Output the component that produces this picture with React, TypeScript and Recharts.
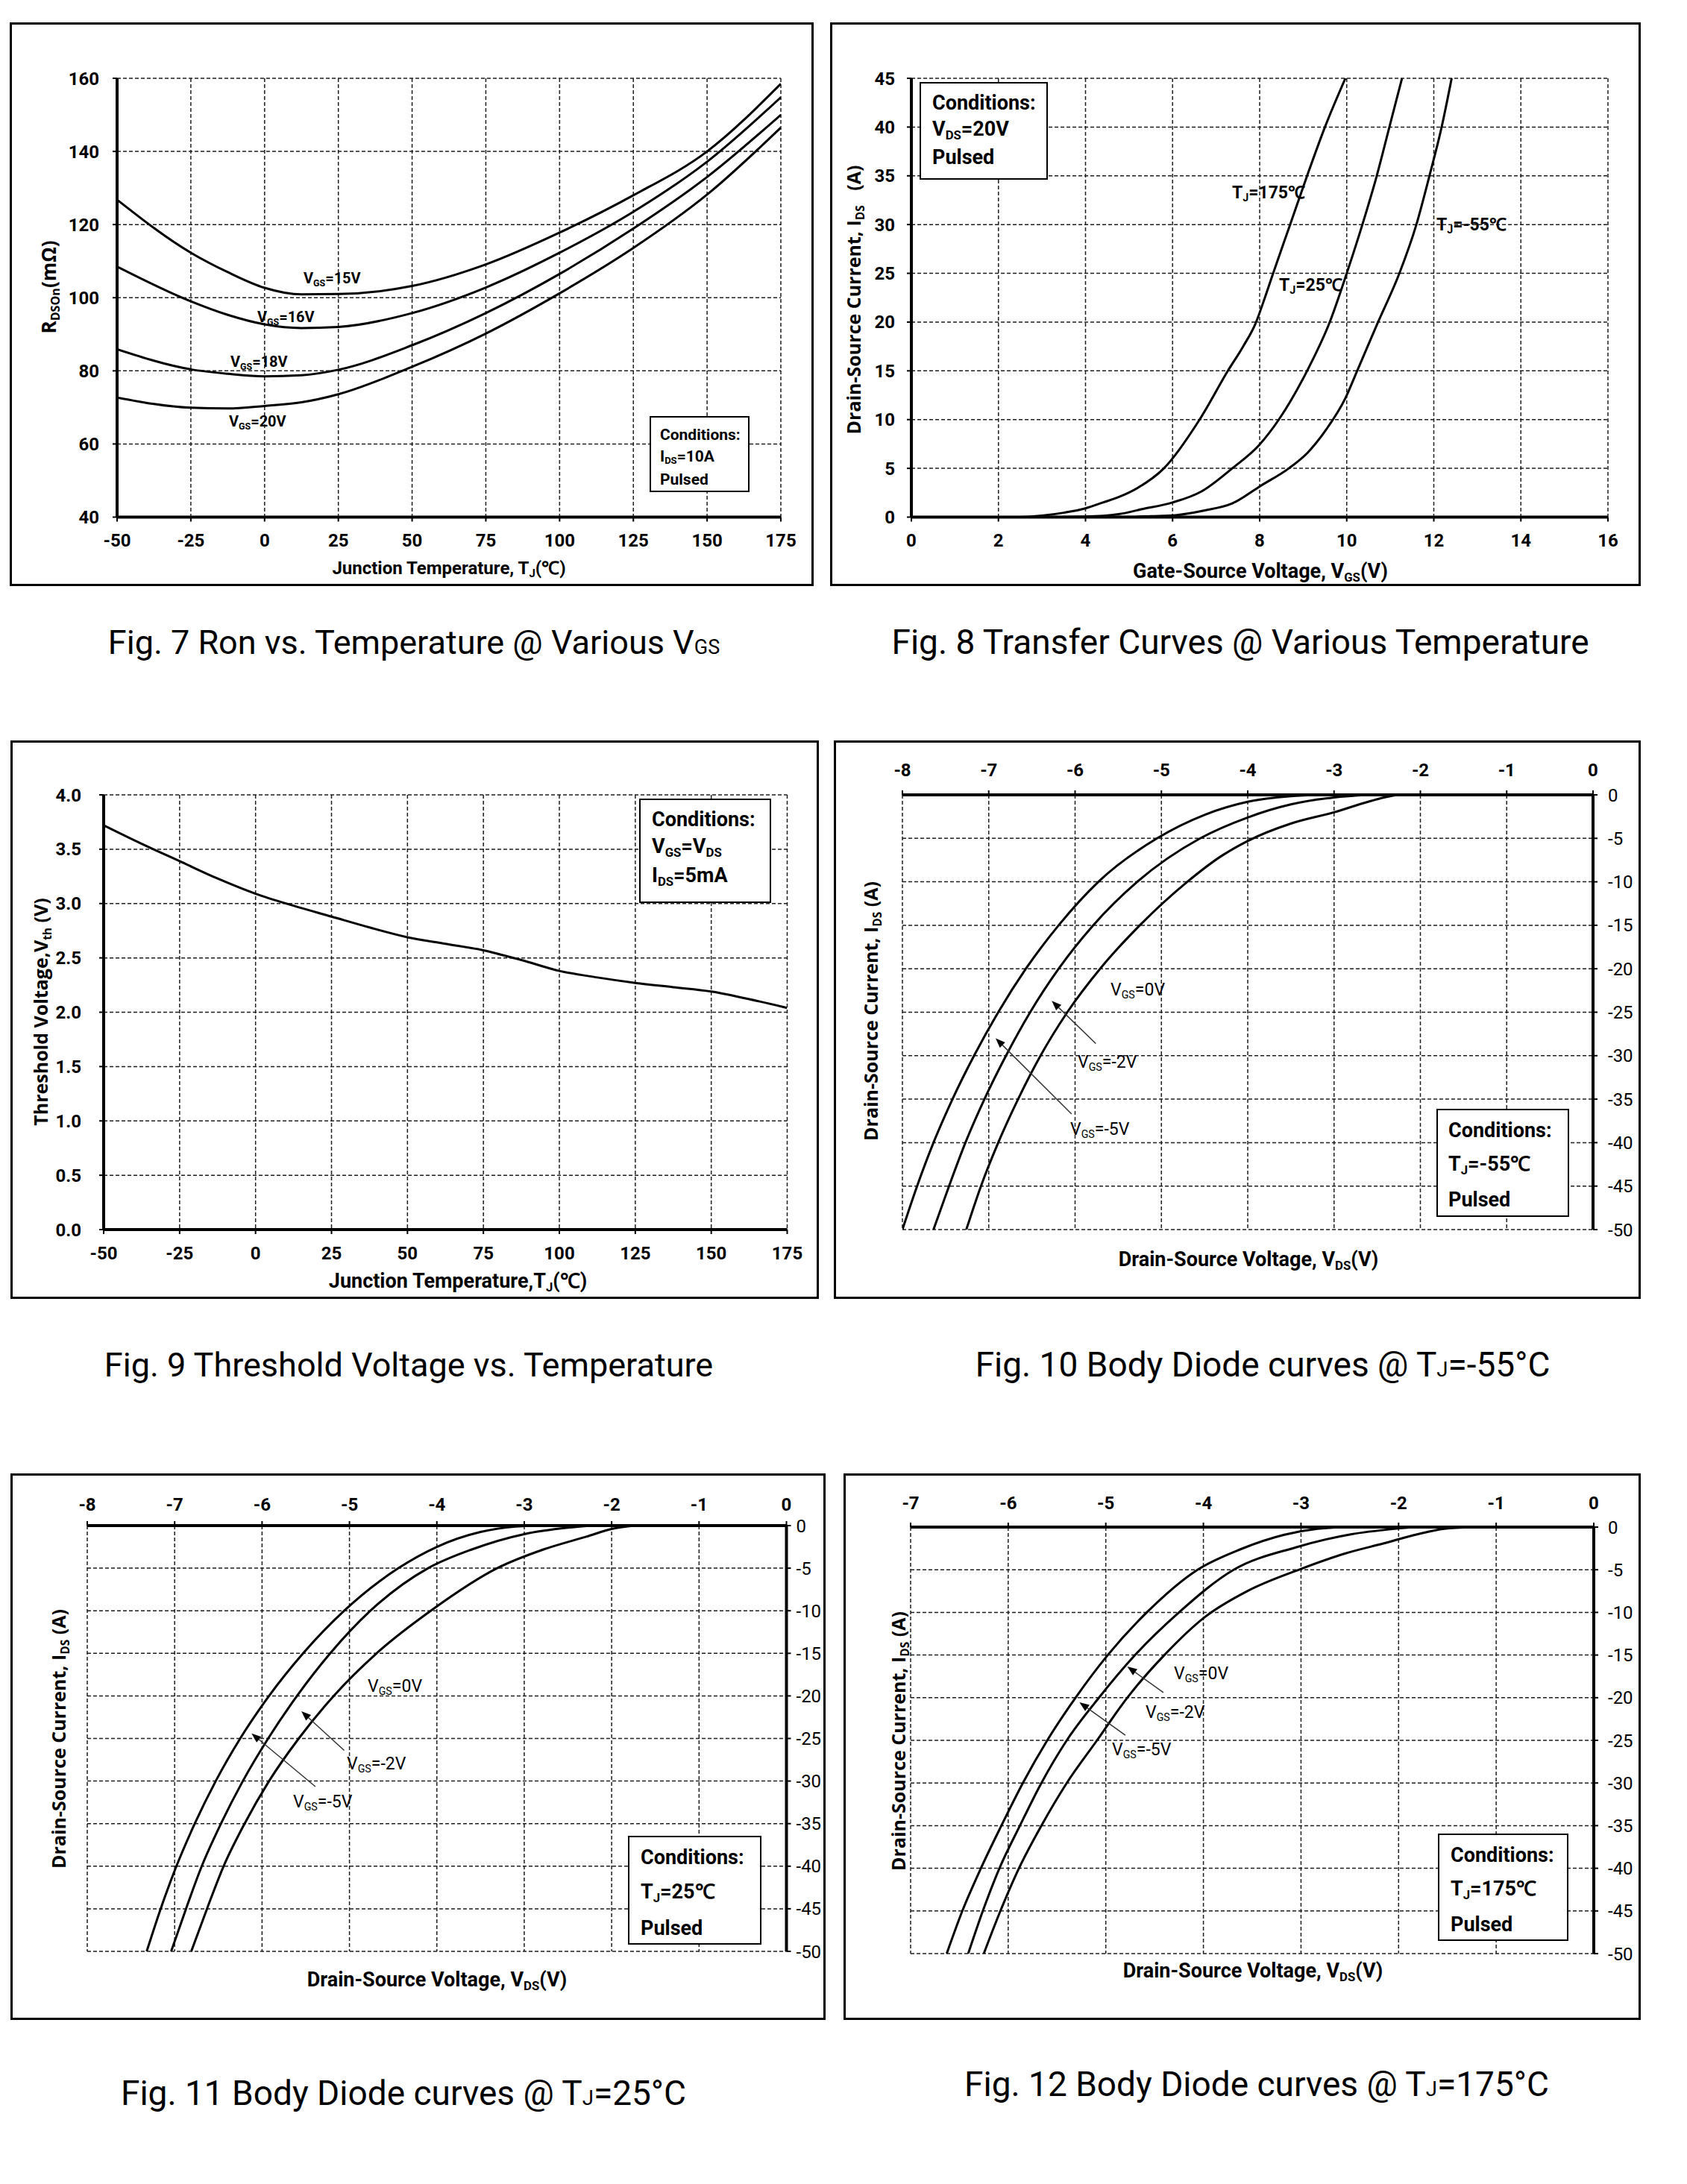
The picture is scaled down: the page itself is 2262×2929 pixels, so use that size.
import React from 'react';
import { LineChart, Line, XAxis, YAxis, CartesianGrid, ReferenceLine } from 'recharts';

const NARROW = '"Liberation Sans Narrow", "Arial Narrow", Roboto, sans-serif';
const WIDE = '"Open Sans", "Noto Sans", sans-serif';

// Fig. 7 – Ron vs. temperature
const ronTemp = [-50, -25, -12.5, 0, 12.5, 25, 50, 75, 100, 125, 150, 175];
const ronVgs15 = [126.8, 112.3, 107.0, 102.7, 100.9, 101.0, 103.2, 109.1, 117.8, 128.0, 140.0, 158.5];
const ronVgs16 = [108.5, 99.0, 95.3, 92.7, 91.7, 92.0, 95.8, 102.8, 112.3, 123.5, 137.2, 154.8];
const ronVgs18 = [85.9, 80.4, 79.2, 78.5, 78.8, 80.3, 87.0, 95.8, 106.5, 118.9, 133.0, 150.0];
const ronVgs20 = [72.7, 69.9, 69.7, 70.4, 71.4, 73.6, 81.1, 90.2, 101.2, 113.6, 128.2, 146.5];
const tempTicks = [-50, -25, 0, 25, 50, 75, 100, 125, 150, 175];
const ronTicks = [40, 60, 80, 100, 120, 140, 160];

// Fig. 8 – transfer curves
const t175Vgs = [0, 2.5, 3.0, 3.5, 4.0, 4.4, 4.76, 5.2, 5.8, 6.62, 7.27, 7.62, 7.9, 8.12, 8.31, 8.7, 9.09, 9.5, 9.97];
const t175Ids = [0, 0, 0.15, 0.45, 0.9, 1.5, 2.05, 3.0, 5.0, 10, 15, 17.5, 19.8, 22.5, 25, 30, 35, 40, 45];
const t25Vgs = [0, 3.0, 4.0, 4.76, 5.28, 6.0, 6.65, 7.37, 7.99, 8.44, 9.09, 9.61, 10.0, 10.36, 10.69, 10.98, 11.27];
const t25Ids = [0, 0, 0.05, 0.3, 0.8, 1.5, 2.6, 5, 7.4, 10, 15, 20, 25, 30, 35, 40, 45];
const tm55Vgs = [0, 4.0, 5.0, 5.5, 6.07, 6.72, 7.37, 8.02, 8.67, 9.1, 9.5, 9.97, 10.24, 10.72, 11.21, 11.6, 11.9, 12.18, 12.41];
const tm55Ids = [0, 0, 0.02, 0.1, 0.2, 0.67, 1.4, 3.2, 5, 6.6, 8.8, 12.2, 15, 20, 25, 30, 35, 40, 45];
const vgsTicks = [0, 2, 4, 6, 8, 10, 12, 14, 16];
const idsTicks = [0, 5, 10, 15, 20, 25, 30, 35, 40, 45];

// Fig. 9 – threshold voltage
const vthTemp = [-50, -37.5, -25, -12.5, 0, 12.5, 25, 37.5, 50, 62.5, 75, 87.5, 100, 112.5, 125, 137.5, 150, 162.5, 175];
const vthVal = [3.72, 3.55, 3.39, 3.23, 3.09, 2.98, 2.88, 2.78, 2.69, 2.63, 2.57, 2.48, 2.38, 2.32, 2.27, 2.23, 2.19, 2.12, 2.04];
const vthTicks = [0, 0.5, 1, 1.5, 2, 2.5, 3, 3.5, 4];

// Fig. 10 – body diode @ -55°C
const d55aV = [-8, -7.83, -7.64, -7.42, -7.17, -6.89, -6.57, -6.19, -5.73, -5.05, -4.5, -4.0, -3.5, -3.15];
const d55aI = [-50, -45, -40, -35, -30, -25, -20, -15, -10, -5, -2.3, -0.8, -0.15, 0];
const d55bV = [-7.64, -7.46, -7.27, -7.05, -6.8, -6.52, -6.19, -5.79, -5.28, -4.55, -4.0, -3.5, -3.0, -2.6];
const d55bI = [-50, -45, -40, -35, -30, -25, -20, -15, -10, -5, -2.6, -1.1, -0.3, 0];
const d55cV = [-7.26, -7.09, -6.89, -6.66, -6.4, -6.09, -5.71, -5.25, -4.7, -4.3, -4.0, -3.5, -3.0, -2.62, -2.42, -2.27];
const d55cI = [-50, -45, -40, -35, -30, -25, -20, -15, -10, -7.0, -5.3, -3.3, -2.0, -0.84, -0.3, 0];

// Fig. 11 – body diode @ 25°C
const d25aV = [-7.32, -7.16, -6.98, -6.77, -6.53, -6.25, -5.92, -5.53, -5.06, -4.44, -4.0, -3.5, -3.1, -2.9];
const d25aI = [-50, -45, -40, -35, -30, -25, -20, -15, -10, -5, -2.5, -0.75, -0.12, 0];
const d25bV = [-7.04, -6.87, -6.69, -6.47, -6.22, -5.93, -5.6, -5.22, -4.76, -4.1, -3.6, -3.0, -2.5, -2.23];
const d25bI = [-50, -45, -40, -35, -30, -25, -20, -15, -10, -5, -2.8, -1.0, -0.25, 0];
const d25cV = [-6.81, -6.63, -6.44, -6.2, -5.92, -5.58, -5.18, -4.69, -4.07, -3.31, -2.78, -2.29, -1.98, -1.74];
const d25cI = [-50, -45, -40, -35, -30, -25, -20, -15, -10, -5, -2.8, -1.3, -0.35, 0];

// Fig. 12 – body diode @ 175°C
const d175aV = [-6.63, -6.47, -6.28, -6.07, -5.85, -5.6, -5.31, -4.98, -4.58, -4.06, -3.62, -3.17, -2.83, -2.55];
const d175aI = [-50, -45, -40, -35, -30, -25, -20, -15, -10, -5, -2.6, -0.9, -0.2, 0];
const d175bV = [-6.41, -6.26, -6.09, -5.88, -5.66, -5.4, -5.07, -4.7, -4.25, -3.69, -3.06, -2.49, -2.04, -1.85];
const d175bI = [-50, -45, -40, -35, -30, -25, -20, -15, -10, -5, -2.4, -0.85, -0.2, 0];
const d175cV = [-6.25, -6.08, -5.89, -5.66, -5.4, -5.09, -4.78, -4.4, -3.98, -3.55, -3.0, -2.55, -2.15, -1.81, -1.53, -1.24];
const d175cI = [-50, -45, -40, -35, -30, -25, -20, -15, -10.5, -7.5, -4.9, -3.1, -1.9, -0.85, -0.2, 0];

const vds8Ticks = [-8, -7, -6, -5, -4, -3, -2, -1, 0];
const vds7Ticks = [-7, -6, -5, -4, -3, -2, -1, 0];
const idsNegTicks = [-50, -45, -40, -35, -30, -25, -20, -15, -10, -5, 0];

type Rect = { l: number; t: number; r: number; b: number };
type Series = { xs: number[]; ys: number[] };
type Arrow = [number, number, number, number];

const pts = (s: Series) => s.xs.map((x, i) => ({ x, y: s.ys[i] }));

const arrowShape = (p: any) => {
  const { x1, y1, x2, y2 } = p;
  const a = Math.atan2(y2 - y1, x2 - x1);
  const L = 13, W = 5;
  const bx = x2 - L * Math.cos(a), by = y2 - L * Math.sin(a);
  const head = `${x2},${y2} ${bx + W * Math.sin(a)},${by - W * Math.cos(a)} ${bx - W * Math.sin(a)},${by + W * Math.cos(a)}`;
  return (
    <g>
      <line x1={x1} y1={y1} x2={bx} y2={by} stroke="#333" strokeWidth={1.5} />
      <polygon points={head} fill="#000" />
    </g>
  );
};

interface PlotProps {
  plot: Rect;
  flip?: boolean;
  xDomain: [number, number];
  xTicks: number[];
  yDomain: [number, number];
  yTicks: number[];
  series: Series[];
  xGap: number;
  yGap: number;
  yFmt?: (v: number) => string;
  yWeight?: number;
  arrows?: Arrow[];
}

const Plot = (p: PlotProps) => {
  const AX = 70, M = 30;
  const w = p.plot.r - p.plot.l, h = p.plot.b - p.plot.t;
  const left = p.flip ? p.plot.l - M : p.plot.l - AX - M;
  const top = p.flip ? p.plot.t - AX - M : p.plot.t - M;
  const tick = { fontSize: 24, fontWeight: 700, fill: '#000', fontFamily: NARROW };
  return (
    <div style={{ position: 'absolute', left, top }}>
      <LineChart width={w + AX + 2 * M} height={h + AX + 2 * M} margin={{ top: M, right: M, bottom: M, left: M }}>
        <CartesianGrid stroke="#1e1e1e" strokeDasharray="5 3" strokeWidth={1.5} />
        <XAxis
          type="number"
          dataKey="x"
          domain={p.xDomain}
          ticks={p.xTicks}
          interval={0}
          orientation={p.flip ? 'top' : 'bottom'}
          height={AX}
          axisLine={{ stroke: '#000', strokeWidth: 4 }}
          tickLine={{ stroke: '#000', strokeWidth: 2 }}
          tickSize={6}
          tickMargin={p.xGap}
          tick={tick}
          allowDataOverflow
        />
        <YAxis
          type="number"
          domain={p.yDomain}
          ticks={p.yTicks}
          interval={0}
          orientation={p.flip ? 'right' : 'left'}
          width={AX}
          axisLine={{ stroke: '#000', strokeWidth: 4 }}
          tickLine={{ stroke: '#000', strokeWidth: 2 }}
          tickSize={6}
          tickMargin={p.yGap}
          tick={{ ...tick, fontWeight: p.yWeight ?? 700 }}
          tickFormatter={p.yFmt}
          allowDataOverflow
        />
        {p.series.map((s, i) => (
          <Line
            key={i}
            data={pts(s)}
            dataKey="y"
            type="monotone"
            stroke="#000"
            strokeWidth={3}
            dot={false}
            isAnimationActive={false}
          />
        ))}
        {(p.arrows || []).map((a, i) => (
          <ReferenceLine
            key={'a' + i}
            segment={[{ x: a[0], y: a[1] }, { x: a[2], y: a[3] }]}
            shape={arrowShape}
            ifOverflow="visible"
          />
        ))}
      </LineChart>
    </div>
  );
};

const S = ({ c }: { c: string }) => (
  <span style={{ fontSize: '0.62em', position: 'relative', top: '0.3em' }}>{c}</span>
);
const Sm = ({ c }: { c: string }) => <span style={{ fontSize: '0.6em' }}>{c}</span>;

const T = ({ x, y, size = 22, w = 700, font = NARROW, center = false, rotate = false, children }: any) => (
  <div
    style={{
      position: 'absolute',
      left: x,
      top: y,
      fontSize: size,
      fontWeight: w,
      fontFamily: font,
      whiteSpace: 'pre',
      lineHeight: 1,
      transform: `translate(${center || rotate ? '-50%' : '0'}, -50%)${rotate ? ' rotate(-90deg)' : ''}`,
    }}
  >
    {children}
  </div>
);

const Box = ({ l, t, r, b }: Rect) => (
  <div
    style={{
      position: 'absolute',
      left: l,
      top: t,
      width: r - l,
      height: b - t,
      boxSizing: 'border-box',
      border: '3px solid #000',
    }}
  />
);

const Cond = ({ l, t, r, b, first, gap, pad, size, lines }: any) => (
  <div
    style={{
      position: 'absolute',
      left: l,
      top: t,
      width: r - l,
      height: b - t,
      boxSizing: 'border-box',
      border: '2.5px solid #000',
      background: '#fff',
      paddingLeft: pad,
      paddingTop: first - t - gap / 2 - 2,
      fontSize: size,
      fontWeight: 700,
      fontFamily: NARROW,
      lineHeight: `${gap}px`,
      whiteSpace: 'nowrap',
    }}
  >
    {lines.map((ln: any, i: number) => (
      <div key={i}>{ln}</div>
    ))}
  </div>
);

const Cap = ({ x, y, size = 46, children }: any) => (
  <T x={x} y={y} size={size} w={400} center>
    {children}
  </T>
);

export default function App() {
  return (
    <div
      style={{
        position: 'absolute',
        left: 0,
        top: 0,
        width: 2262,
        height: 2929,
        background: '#fff',
        color: '#000',
        fontFamily: NARROW,
        overflow: 'hidden',
      }}
    >
      {/* Fig. 7 */}
      <Box l={13} t={30} r={1091} b={786} />
      <Plot
        plot={{ l: 157, t: 104.5, r: 1047, b: 693 }}
        xDomain={[-50, 175]}
        xTicks={tempTicks}
        yDomain={[40, 160]}
        yTicks={ronTicks}
        xGap={16}
        yGap={18}
        series={[
          { xs: ronTemp, ys: ronVgs15 },
          { xs: ronTemp, ys: ronVgs16 },
          { xs: ronTemp, ys: ronVgs18 },
          { xs: ronTemp, ys: ronVgs20 },
        ]}
      />
      <T x={602} y={762} size={24} center>
        Junction Temperature, T<S c="J" />(℃)
      </T>
      <T x={65} y={385} size={26} font={WIDE} rotate>
        R<S c="DSOn" />(mΩ)
      </T>
      <T x={407} y={373} size={20}>V<S c="GS" />=15V</T>
      <T x={345} y={425} size={20}>V<S c="GS" />=16V</T>
      <T x={309} y={485} size={20}>V<S c="GS" />=18V</T>
      <T x={307} y={565} size={20}>V<S c="GS" />=20V</T>
      <Cond l={871} t={558} r={1005} b={660} first={583} gap={29} pad={12} size={21}
        lines={['Conditions:', <>I<S c="DS" />=10A</>, 'Pulsed']} />
      <Cap x={555} y={861} size={45}>
        Fig. 7 Ron vs. Temperature @ Various V<Sm c="GS" />
      </Cap>

      {/* Fig. 8 */}
      <Box l={1113} t={30} r={2200} b={786} />
      <Plot
        plot={{ l: 1222, t: 104.5, r: 2156, b: 693 }}
        xDomain={[0, 16]}
        xTicks={vgsTicks}
        yDomain={[0, 45]}
        yTicks={idsTicks}
        xGap={16}
        yGap={16}
        series={[
          { xs: t175Vgs, ys: t175Ids },
          { xs: t25Vgs, ys: t25Ids },
          { xs: tm55Vgs, ys: tm55Ids },
        ]}
      />
      <T x={1690} y={766} size={27} center>
        Gate-Source Voltage, V<S c="GS" />(V)
      </T>
      <T x={1144} y={402} size={25} font={WIDE} rotate>
        Drain-Source Current, I<S c="DS" />   (A)
      </T>
      <T x={1652} y={258} size={23}>T<S c="J" />=175℃</T>
      <T x={1715} y={382} size={23}>T<S c="J" />=25℃</T>
      <T x={1926} y={301} size={23}>T<S c="J" />=-55℃</T>
      <Cond l={1233} t={110} r={1405} b={241} first={138} gap={35} pad={15} size={27}
        lines={['Conditions:', <>V<S c="DS" />=20V</>, 'Pulsed']} />
      <Cap x={1663} y={861}>Fig. 8 Transfer Curves @ Various Temperature</Cap>

      {/* Fig. 9 */}
      <Box l={14} t={993} r={1098} b={1742} />
      <Plot
        plot={{ l: 138.5, t: 1066, r: 1055, b: 1649 }}
        xDomain={[-50, 175]}
        xTicks={tempTicks}
        yDomain={[0, 4]}
        yTicks={vthTicks}
        xGap={17}
        yGap={24}
        yFmt={(v: number) => v.toFixed(1)}
        series={[{ xs: vthTemp, ys: vthVal }]}
      />
      <T x={614} y={1718} size={27} center>
        Junction Temperature,T<S c="J" />(℃)
      </T>
      <T x={54} y={1357} size={25} font={WIDE} rotate>
        Threshold Voltage,V<S c="th" /> (V)
      </T>
      <Cond l={857} t={1071} r={1034} b={1211} first={1099} gap={36} pad={15} size={27}
        lines={['Conditions:', <>V<S c="GS" />=V<S c="DS" /></>, <>I<S c="DS" />=5mA</>]} />
      <Cap x={548} y={1830} size={45}>Fig. 9 Threshold Voltage vs. Temperature</Cap>

      {/* Fig. 10 */}
      <Box l={1118} t={993} r={2200} b={1742} />
      <Plot
        flip
        plot={{ l: 1210, t: 1066, r: 2136, b: 1649 }}
        xDomain={[-8, 0]}
        xTicks={vds8Ticks}
        yDomain={[-50, 0]}
        yTicks={idsNegTicks}
        xGap={19}
        yGap={14}
        yWeight={400}
        series={[
          { xs: d55aV, ys: d55aI },
          { xs: d55bV, ys: d55bI },
          { xs: d55cV, ys: d55cI },
        ]}
        arrows={[
          [-5.76, -28.6, -6.27, -23.7],
          [-6.04, -36.7, -6.92, -28.0],
        ]}
      />
      <T x={1674} y={1689} size={27} center>
        Drain-Source Voltage, V<S c="DS" />(V)
      </T>
      <T x={1167} y={1356} size={25} font={WIDE} rotate>
        Drain-Source Current, I<S c="DS" /> (A)
      </T>
      <T x={1489} y={1327} size={23} w={400}>V<S c="GS" />=0V</T>
      <T x={1445} y={1424} size={23} w={400}>V<S c="GS" />=-2V</T>
      <T x={1435} y={1514} size={23} w={400}>V<S c="GS" />=-5V</T>
      <Cond l={1926} t={1487} r={2104} b={1632} first={1516} gap={45} pad={14} size={27}
        lines={['Conditions:', <>T<S c="J" />=-55℃</>, 'Pulsed']} />
      <Cap x={1693} y={1830}>
        Fig. 10 Body Diode curves @ T<Sm c="J" />=-55°C
      </Cap>

      {/* Fig. 11 */}
      <Box l={14} t={1976} r={1107} b={2709} />
      <Plot
        flip
        plot={{ l: 117, t: 2046, r: 1054.5, b: 2617 }}
        xDomain={[-8, 0]}
        xTicks={vds8Ticks}
        yDomain={[-50, 0]}
        yTicks={idsNegTicks}
        xGap={14}
        yGap={7}
        yWeight={400}
        series={[
          { xs: d25aV, ys: d25aI },
          { xs: d25bV, ys: d25bI },
          { xs: d25cV, ys: d25cI },
        ]}
        arrows={[
          [-5.06, -26.4, -5.55, -21.8],
          [-5.39, -30.65, -6.12, -24.4],
        ]}
      />
      <T x={586} y={2655} size={27} center>
        Drain-Source Voltage, V<S c="DS" />(V)
      </T>
      <T x={78} y={2332} size={25} font={WIDE} rotate>
        Drain-Source Current, I<S c="DS" /> (A)
      </T>
      <T x={493} y={2261} size={23} w={400}>V<S c="GS" />=0V</T>
      <T x={465} y={2365} size={23} w={400}>V<S c="GS" />=-2V</T>
      <T x={393} y={2416} size={23} w={400}>V<S c="GS" />=-5V</T>
      <Cond l={842} t={2462} r={1021} b={2608} first={2491} gap={46} pad={15} size={27}
        lines={['Conditions:', <>T<S c="J" />=25℃</>, 'Pulsed']} />
      <Cap x={541} y={2807}>
        Fig. 11 Body Diode curves @ T<Sm c="J" />=25°C
      </Cap>

      {/* Fig. 12 */}
      <Box l={1131} t={1976} r={2200} b={2709} />
      <Plot
        flip
        plot={{ l: 1221, t: 2048, r: 2137, b: 2620 }}
        xDomain={[-7, 0]}
        xTicks={vds7Ticks}
        yDomain={[-50, 0]}
        yTicks={idsNegTicks}
        xGap={18}
        yGap={13}
        yWeight={400}
        series={[
          { xs: d175aV, ys: d175aI },
          { xs: d175bV, ys: d175bI },
          { xs: d175cV, ys: d175cI },
        ]}
        arrows={[
          [-4.41, -19.4, -4.78, -16.35],
          [-4.8, -24.4, -5.27, -20.55],
        ]}
      />
      <T x={1680} y={2643} size={27} center>
        Drain-Source Voltage, V<S c="DS" />(V)
      </T>
      <T x={1204} y={2335} size={25} font={WIDE} rotate>
        Drain-Source Current, I<S c="DS" /> (A)
      </T>
      <T x={1574} y={2244} size={23} w={400}>V<S c="GS" />=0V</T>
      <T x={1536} y={2296} size={23} w={400}>V<S c="GS" />=-2V</T>
      <T x={1491} y={2346} size={23} w={400}>V<S c="GS" />=-5V</T>
      <Cond l={1928} t={2459} r={2103} b={2603} first={2488} gap={45} pad={15} size={27}
        lines={['Conditions:', <>T<S c="J" />=175℃</>, 'Pulsed']} />
      <Cap x={1685} y={2795}>
        Fig. 12 Body Diode curves @ T<Sm c="J" />=175°C
      </Cap>
    </div>
  );
}
